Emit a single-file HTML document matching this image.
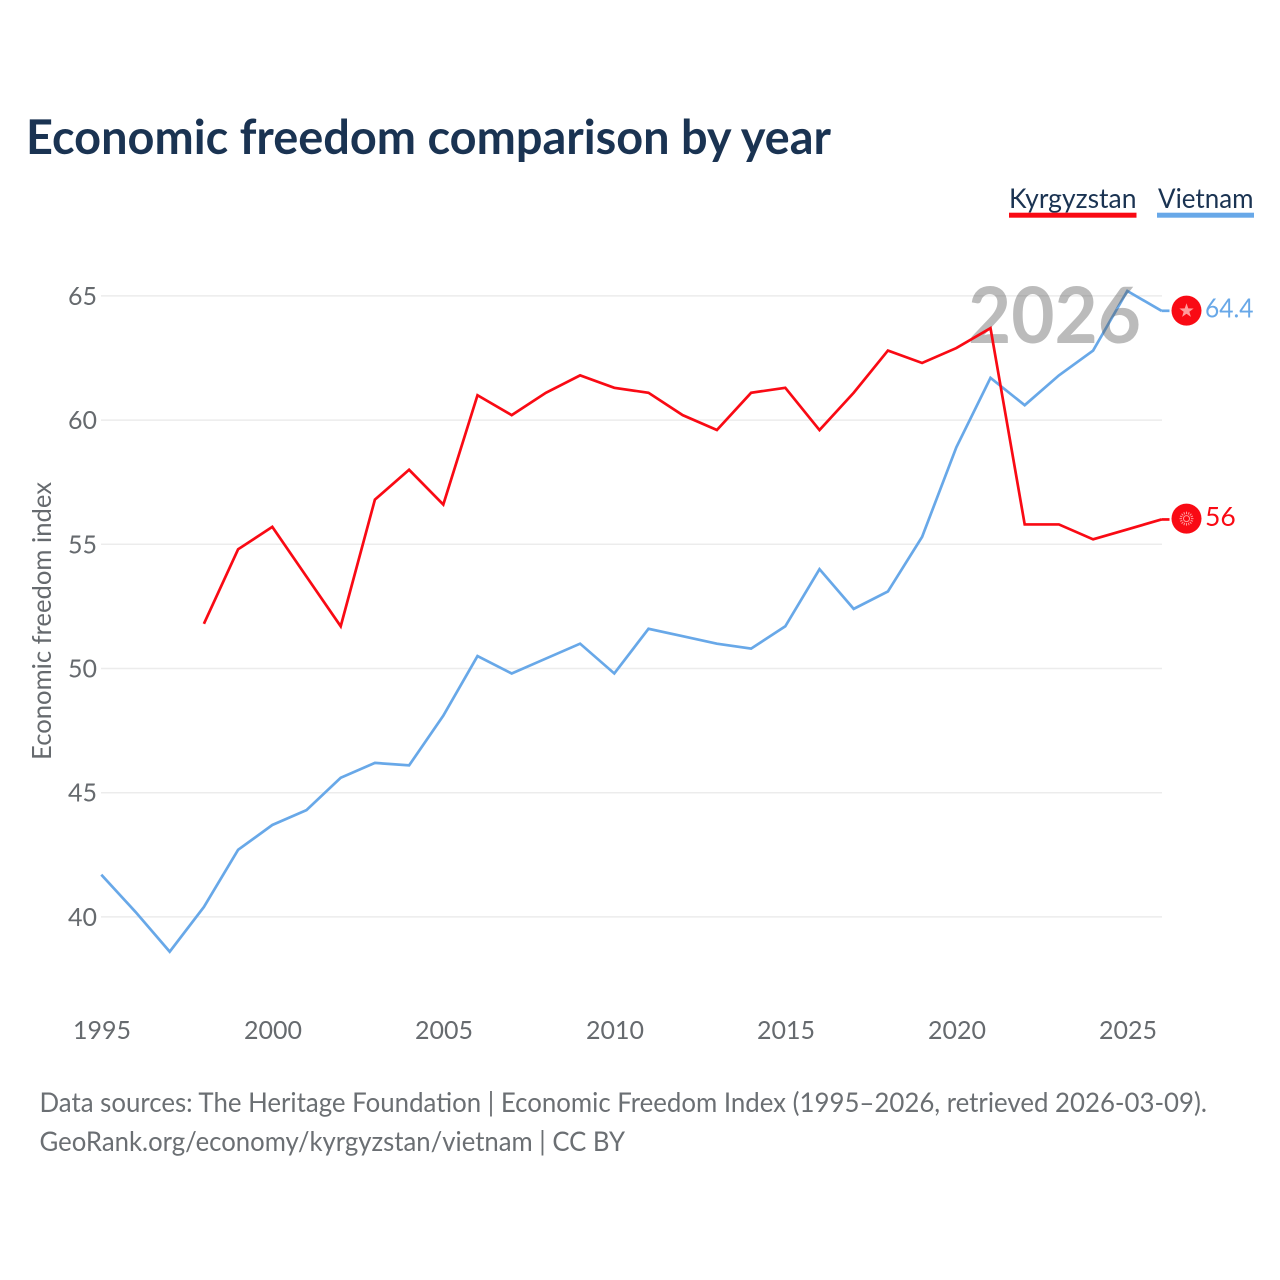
<!DOCTYPE html>
<html lang="en">
<head>
<meta charset="utf-8">
<title>Economic freedom comparison by year</title>
<style>
html,body{margin:0;padding:0;background:#fff;}
svg{display:block;}
text{font-family:"Lato","Carlito","Liberation Sans",sans-serif;}
</style>
</head>
<body>
<svg id="chart" xmlns="http://www.w3.org/2000/svg" width="1280" height="1280" viewBox="0 0 1280 1280">
  <rect width="1280" height="1280" fill="#ffffff"/>
  <text x="26" y="154" font-size="47.5" font-weight="700" fill="#1a3352" textLength="805" lengthAdjust="spacingAndGlyphs">Economic freedom comparison by year</text>
  <g id="grid"></g>
  <g id="yticks"></g>
  <g id="xticks"></g>
  <text transform="translate(51,760) rotate(-90)" font-size="26" fill="#666a6e" textLength="278" lengthAdjust="spacingAndGlyphs">Economic freedom index</text>
  <g>
    <text x="1009" y="208" font-size="27" fill="#1a3352" textLength="127.5" lengthAdjust="spacingAndGlyphs">Kyrgyzstan</text>
    <rect x="1009" y="212.7" width="127.5" height="5" fill="#f90a14"/>
  </g>
  <g>
    <text x="1158" y="208" font-size="27" fill="#1a3352" textLength="95.5" lengthAdjust="spacingAndGlyphs">Vietnam</text>
    <rect x="1157" y="212.7" width="97" height="5" fill="#68a8e8"/>
  </g>
  <path id="line-vietnam" fill="none" stroke="#68a8e8" stroke-width="2.7" stroke-linejoin="miter"/>
  <text x="968" y="343" font-size="78" font-weight="700" fill="#555555" fill-opacity="0.4" textLength="173" lengthAdjust="spacingAndGlyphs">2026</text>
  <path id="line-kyrgyzstan" fill="none" stroke="#f90a14" stroke-width="2.7" stroke-linejoin="miter"/>
  <g id="end-vietnam">
    <line id="tail-vietnam" stroke="#68a8e8" stroke-width="2.7"/>
    <circle id="flag-vietnam" r="15" fill="#f90a14"/>
    <polygon id="star-vietnam" fill="#ff9c9c"/>
    <text id="label-vietnam" font-size="26.5" fill="#68a8e8" textLength="48.5" lengthAdjust="spacingAndGlyphs"></text>
  </g>
  <g id="end-kyrgyzstan">
    <line id="tail-kyrgyzstan" stroke="#f90a14" stroke-width="2.7"/>
    <circle id="flag-kyrgyzstan" r="15" fill="#f90a14"/>
    <g id="sun-kyrgyzstan" stroke="#ff9c9c" fill="none"></g>
    <text id="label-kyrgyzstan" font-size="26.5" fill="#f90a14"></text>
  </g>
  <text x="39.5" y="1112" font-size="27" fill="#6b6f73" textLength="1167.5" lengthAdjust="spacingAndGlyphs">Data sources: The Heritage Foundation | Economic Freedom Index (1995–2026, retrieved 2026-03-09).</text>
  <text x="39.5" y="1151" font-size="27" fill="#6b6f73" textLength="585.5" lengthAdjust="spacingAndGlyphs">GeoRank.org/economy/kyrgyzstan/vietnam | CC BY</text>
</svg>
<script>
const years = [1995,1996,1997,1998,1999,2000,2001,2002,2003,2004,2005,2006,2007,2008,2009,2010,2011,2012,2013,2014,2015,2016,2017,2018,2019,2020,2021,2022,2023,2024,2025,2026];
const vietnamValues = [41.7,40.2,38.6,40.4,42.7,43.7,44.3,45.6,46.2,46.1,48.1,50.5,49.8,50.4,51.0,49.8,51.6,51.3,51.0,50.8,51.7,54.0,52.4,53.1,55.3,58.9,61.7,60.6,61.8,62.8,65.2,64.4];
const kyrgyzstanValues = [null,null,null,51.8,54.8,55.7,53.7,51.7,56.8,58.0,56.6,61.0,60.2,61.1,61.8,61.3,61.1,60.2,59.6,61.1,61.3,59.6,61.1,62.8,62.3,62.9,63.7,55.8,55.8,55.2,55.6,56.0];
const yTickLabels = [40,45,50,55,60,65];
const xTickLabels = [1995,2000,2005,2010,2015,2020,2025];

const NS = 'http://www.w3.org/2000/svg';
const xScale = function (year) { return 101.3 + (year - 1995) * 34.2; };
const yScale = function (value) { return 295.9 + (65 - value) * 24.84; };

function buildPath(values) {
  let d = '';
  values.forEach(function (v, i) {
    if (v === null) return;
    d += (d ? 'L' : 'M') + xScale(years[i]).toFixed(2) + ' ' + yScale(v).toFixed(2);
  });
  return d;
}

const gridGroup = document.getElementById('grid');
const yGroup = document.getElementById('yticks');
const xGroup = document.getElementById('xticks');

yTickLabels.forEach(function (t) {
  const line = document.createElementNS(NS, 'line');
  
  
  line.setAttribute('x1', 101);
  line.setAttribute('x2', 1162);
  line.setAttribute('y1', yScale(t));
  line.setAttribute('y2', yScale(t));
  line.setAttribute('stroke', '#ececec');
  line.setAttribute('stroke-width', 1.5);
  gridGroup.appendChild(line);

  const label = document.createElementNS(NS, 'text');
  
  
  label.setAttribute('x', 97);
  label.setAttribute('y', yScale(t) + 9);
  label.setAttribute('text-anchor', 'end');
  label.setAttribute('font-size', 25);
  label.setAttribute('fill', '#666a6e');
  label.textContent = t;
  yGroup.appendChild(label);
});

xTickLabels.forEach(function (t) {
  const label = document.createElementNS(NS, 'text');
  
  
  label.setAttribute('x', xScale(t) + 0.7);
  label.setAttribute('y', 1039);
  label.setAttribute('text-anchor', 'middle');
  label.setAttribute('font-size', 25);
  label.setAttribute('fill', '#666a6e');
  label.textContent = t;
  xGroup.appendChild(label);
});

document.getElementById('line-vietnam').setAttribute('d', buildPath(vietnamValues));
document.getElementById('line-kyrgyzstan').setAttribute('d', buildPath(kyrgyzstanValues));

const vietnamLast = vietnamValues[vietnamValues.length - 1];
const kyrgyzstanLast = kyrgyzstanValues[kyrgyzstanValues.length - 1];
const lineEndX = xScale(2026);
const flagX = lineEndX + 25;
const vietnamY = yScale(vietnamLast);
const kyrgyzstanY = yScale(kyrgyzstanLast);

const tailV = document.getElementById('tail-vietnam');
tailV.setAttribute('x1', lineEndX);
tailV.setAttribute('x2', lineEndX + 8);
tailV.setAttribute('y1', vietnamY);
tailV.setAttribute('y2', vietnamY);
const tailK = document.getElementById('tail-kyrgyzstan');
tailK.setAttribute('x1', lineEndX);
tailK.setAttribute('x2', lineEndX + 8);
tailK.setAttribute('y1', kyrgyzstanY);
tailK.setAttribute('y2', kyrgyzstanY);

const flagV = document.getElementById('flag-vietnam');
flagV.setAttribute('cx', flagX);
flagV.setAttribute('cy', vietnamY - 0.2);
const flagK = document.getElementById('flag-kyrgyzstan');
flagK.setAttribute('cx', flagX);
flagK.setAttribute('cy', kyrgyzstanY - 0.8);

const starPoints = [];
for (let i = 0; i < 10; i++) {
  const r = i % 2 === 0 ? 7.5 : 3;
  const a = -Math.PI / 2 + i * Math.PI / 5;
  starPoints.push((flagX + r * Math.cos(a)).toFixed(2) + ',' + (vietnamY + r * Math.sin(a)).toFixed(2));
}
document.getElementById('star-vietnam').setAttribute('points', starPoints.join(' '));

const sun = document.getElementById('sun-kyrgyzstan');
for (let i = 0; i < 16; i++) {
  const a = i * Math.PI / 8;
  const ray = document.createElementNS(NS, 'line');
  
  
  ray.setAttribute('x1', (flagX + 4.5 * Math.cos(a)).toFixed(2));
  ray.setAttribute('y1', (kyrgyzstanY - 0.8 + 4.5 * Math.sin(a)).toFixed(2));
  ray.setAttribute('x2', (flagX + 7 * Math.cos(a)).toFixed(2));
  ray.setAttribute('y2', (kyrgyzstanY - 0.8 + 7 * Math.sin(a)).toFixed(2));
  ray.setAttribute('stroke-width', 1);
  sun.appendChild(ray);
}
const sunDisc = document.createElementNS(NS, 'circle');


sunDisc.setAttribute('cx', flagX);
sunDisc.setAttribute('cy', kyrgyzstanY - 0.8);
sunDisc.setAttribute('r', 3);
sunDisc.setAttribute('stroke-width', 1);
sun.appendChild(sunDisc);

const labelV = document.getElementById('label-vietnam');
labelV.setAttribute('x', flagX + 18.5);
labelV.setAttribute('y', vietnamY + 6.5);
labelV.textContent = vietnamLast;
const labelK = document.getElementById('label-kyrgyzstan');
labelK.setAttribute('x', flagX + 18.5);
labelK.setAttribute('y', kyrgyzstanY + 6.5);
labelK.textContent = kyrgyzstanLast;
</script>
</body>
</html>
